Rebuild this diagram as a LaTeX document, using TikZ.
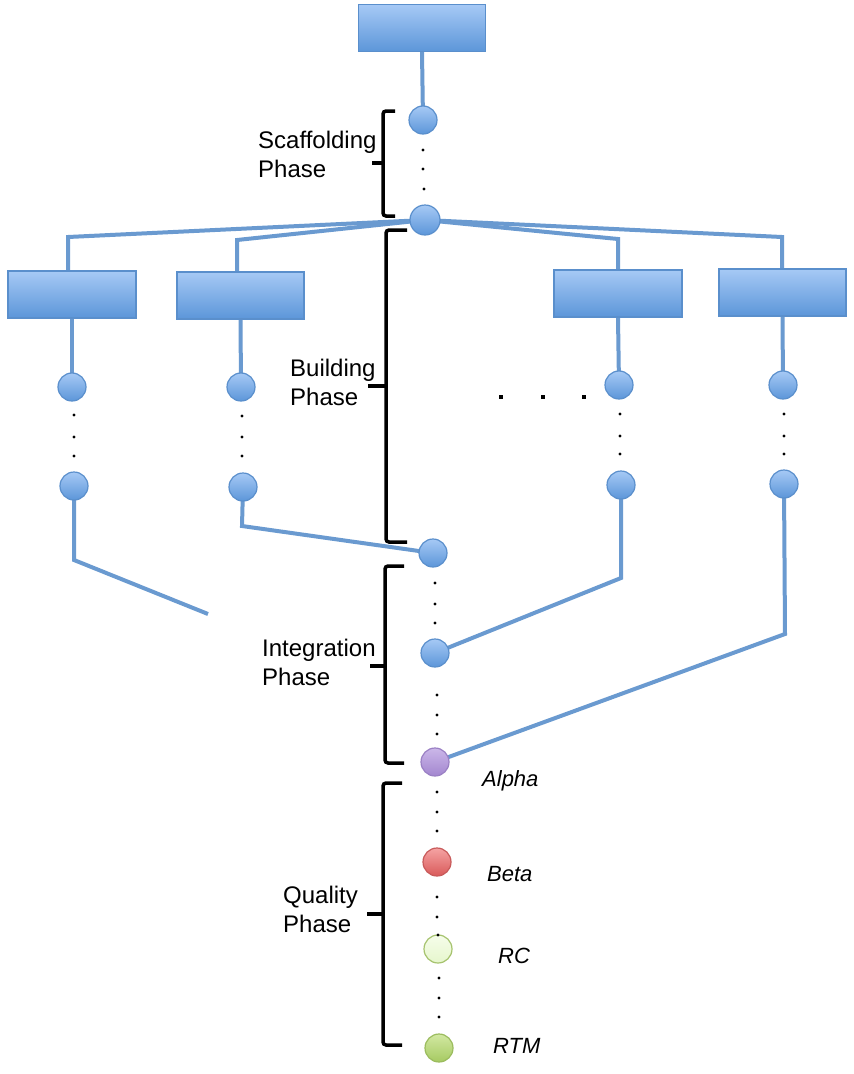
\documentclass[tikz,border=0pt]{standalone}
\usepackage{fontspec}
\setmainfont{Liberation Sans}
\usetikzlibrary{backgrounds}
\definecolor{lineblue}{HTML}{6A9AD0}
\definecolor{boxtop}{HTML}{A6C9F5}
\definecolor{boxbot}{HTML}{5C96D9}
\definecolor{boxedge}{HTML}{5A8FCC}
\definecolor{purtop}{HTML}{CBB7E9}
\definecolor{purbot}{HTML}{A386CF}
\definecolor{puredge}{HTML}{9A80C4}
\definecolor{redtop}{HTML}{F5A3A3}
\definecolor{redbot}{HTML}{D95A5A}
\definecolor{rededge}{HTML}{C85A5A}
\definecolor{rctop}{HTML}{F6FDEA}
\definecolor{rcbot}{HTML}{E6F6CD}
\definecolor{rcedge}{HTML}{A6C36E}
\definecolor{rtmtop}{HTML}{D2E8A2}
\definecolor{rtmbot}{HTML}{A6CA62}
\definecolor{rtmedge}{HTML}{9BBC5E}
\tikzset{
  box/.style={rectangle, minimum width=127pt, minimum height=47pt, inner sep=0pt,
    top color=boxtop, bottom color=boxbot, draw=boxedge, line width=1.2pt},
  dotnode/.style={circle, minimum size=28pt, inner sep=0pt, line width=1.2pt},
  bluedot/.style={dotnode, top color=boxtop, bottom color=boxbot, draw=boxedge},
  purpledot/.style={dotnode, top color=purtop, bottom color=purbot, draw=puredge},
  reddot/.style={dotnode, top color=redtop, bottom color=redbot, draw=rededge},
  rcdot/.style={dotnode, top color=rctop, bottom color=rcbot, draw=rcedge},
  rtmdot/.style={dotnode, top color=rtmtop, bottom color=rtmbot, draw=rtmedge},
  conn/.style={draw=lineblue, line width=4pt},
  phase/.style={font=\fontsize{24}{29}\selectfont, align=left, inner sep=0pt, anchor=north west},
  rel/.style={font=\fontsize{22}{26}\selectfont\itshape, inner sep=0pt, anchor=base west},
  brace/.style={draw=black, line width=3.5pt, rounded corners=3pt},
  tip/.style={draw=black, line width=3.5pt},
}
\begin{document}
\begin{tikzpicture}[x=1pt,y=-1pt]
\useasboundingbox (0,0) rectangle (854,1074);

% boxes
\node[box] (T) at (422,28) {};
\node[box, minimum width=128pt] (r1) at (72,294.5) {};
\node[box] (r2) at (240.5,295.5) {};
\node[box, minimum width=128pt] (r3) at (618,293.5) {};
\node[box] (r4) at (782.5,292.5) {};

% circles
\node[bluedot] (c1) at (423,120) {};
\node[bluedot, minimum size=30pt] (c2) at (425,220) {};
\node[bluedot] (a1) at (72,387) {};
\node[bluedot] (a2) at (74,486) {};
\node[bluedot] (b1) at (241,387) {};
\node[bluedot] (b2) at (243,487) {};
\node[bluedot] (d1) at (619,385) {};
\node[bluedot] (d2) at (621,485) {};
\node[bluedot] (e1) at (783,385) {};
\node[bluedot] (e2) at (784,484) {};
\node[bluedot] (m1) at (433,553) {};
\node[bluedot] (m2) at (435,653) {};
\node[purpledot] (alpha) at (435,762) {};
\node[reddot] (beta) at (437,862) {};
\node[rcdot] (rc) at (438,949) {};
\node[rtmdot] (rtm) at (439,1048) {};

% corner coordinates
\coordinate (k1) at (68,237);
\coordinate (k2) at (237,240);
\coordinate (k3) at (618,239);
\coordinate (k4) at (782,237);
\coordinate (ka) at (74,560);
\coordinate (kend) at (208,614);
\coordinate (kb) at (242,526);
\coordinate (kd) at (621,578);
\coordinate (ke) at (785,634);

\begin{pgfonlayer}{background}
\draw[conn] (T.south) -- (c1.center);
\draw[conn] (c2.center) -- (k1) -- (k1 |- r1.north);
\draw[conn] (c2.center) -- (k2) -- (k2 |- r2.north);
\draw[conn] (c2.center) -- (k3) -- (k3 |- r3.north);
\draw[conn] (c2.center) -- (k4) -- (k4 |- r4.north);
\draw[conn] (r1.south) -- (a1.center);
\draw[conn] (r2.south) -- (b1.center);
\draw[conn] (r3.south) -- (d1.center);
\draw[conn] (r4.south) -- (e1.center);
\draw[conn] (a2.center) -- (ka) -- (kend);
\draw[conn] (b2.center) -- (kb) -- (m1.center);
\draw[conn] (d2.center) -- (kd) -- (m2.center);
\draw[conn] (e2.center) -- (ke) -- (alpha.center);
\end{pgfonlayer}

% vertical dots
\foreach \x/\y in {423/150,423/169,424/189,
  74/415,74/437,74/456, 242/416,242/437,242/456,
  620/414,620/436,620/454, 784/414,784/436,784/454,
  435/583,435/604,435/623, 437/695,437/715,437/734,
  437/792,437/812,437/831, 437/897,437/917,438/935,
  439/978,439/998,439/1017}
  \fill[black] (\x,\y) circle (1.6pt);
% horizontal dots
\foreach \x in {501,543,584}
  \fill[black] (\x-2.2,397-2.2) rectangle (\x+2.2,397+2.2);

% braces
\draw[brace] (395,111) -- (383,111) -- (383,216) -- (395,216);
\draw[tip] (383,163) -- (372,163);
\draw[brace] (407,230) -- (386,230) -- (386,542) -- (407,542);
\draw[tip] (386,386) -- (368,386);
\draw[brace] (404,566) -- (385,566) -- (385,763) -- (404,763);
\draw[tip] (385,666) -- (370,666);
\draw[brace] (402,783) -- (383,783) -- (383,1045) -- (402,1045);
\draw[tip] (383,914) -- (367,914);

% phase labels
\node[phase] (ls) at (258,130.5) {Scaffolding\\Phase};
\node[phase] (lb) at (290,358.5) {Building\\Phase};
\node[phase] (li) at (262,638.5) {Integration\\Phase};
\node[phase] (lq) at (283,885.5) {Quality\\Phase};

% release labels
\node[rel] (lalpha) at (482,786) {Alpha};
\node[rel] (lbeta) at (487,881) {Beta};
\node[rel] (lrc) at (498,963) {RC};
\node[rel] (lrtm) at (493,1053) {RTM};
\end{tikzpicture}
\end{document}
